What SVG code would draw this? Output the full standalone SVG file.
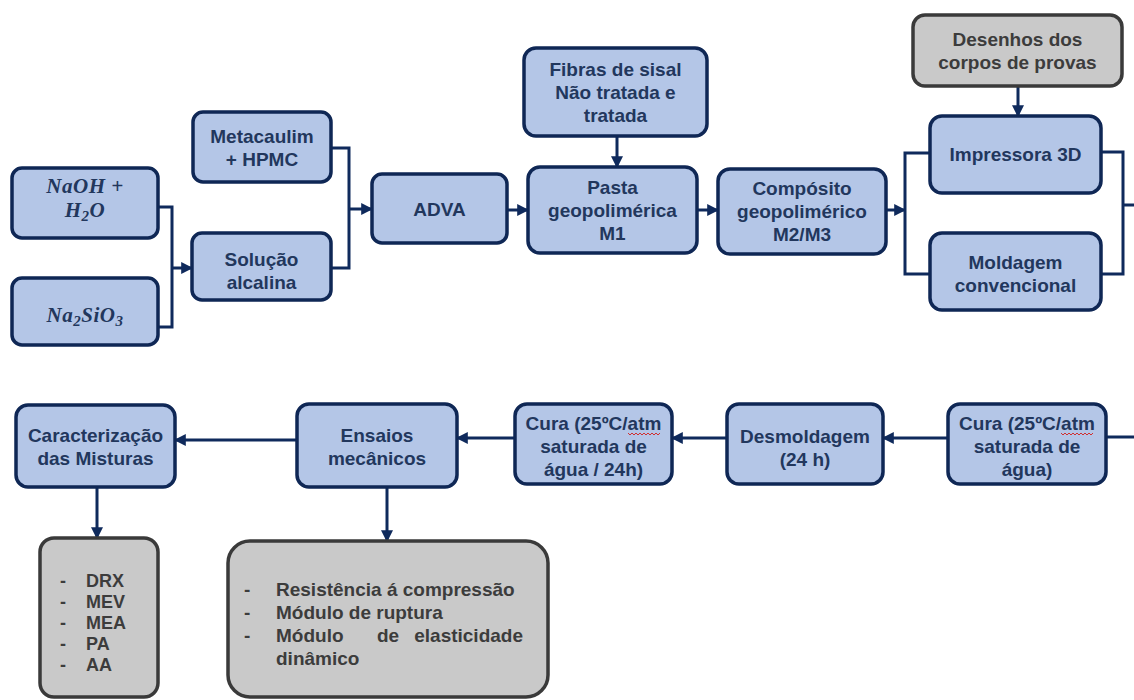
<svg xmlns="http://www.w3.org/2000/svg" width="1134" height="700" viewBox="0 0 1134 700">
<defs>
<style>
.box{fill:#b4c6e7;stroke:#0f2755;stroke-width:3.5}
.gbox{fill:#c9c9c9;stroke:#3a3a3a;stroke-width:3.5}
.t{font-family:"Liberation Sans",Arial,sans-serif;font-weight:bold;font-size:19px;fill:#22375d;text-anchor:middle}
.gt{font-family:"Liberation Sans",Arial,sans-serif;font-weight:bold;font-size:19px;fill:#3c3c3c;text-anchor:middle}
.lt{font-family:"Liberation Sans",Arial,sans-serif;font-weight:bold;font-size:18px;fill:#3c3c3c}
.lt2{font-family:"Liberation Sans",Arial,sans-serif;font-weight:bold;font-size:19px;fill:#3c3c3c}
.m{font-family:"Liberation Serif","Times New Roman",serif;font-weight:bold;font-style:italic;font-size:21px;fill:#22375d;text-anchor:middle;letter-spacing:0.5px}
.c{fill:none;stroke:#0f2a5c;stroke-width:3}
.a{fill:none;stroke:#0f2a5c;stroke-width:3;marker-end:url(#ah)}
.spell{fill:none;stroke:#d03030;stroke-width:1}
</style>
<marker id="ah" viewBox="0 0 10 10" refX="9" refY="5" markerWidth="12" markerHeight="12" markerUnits="userSpaceOnUse" orient="auto">
<path d="M0,0 L10,5 L0,10 z" fill="#0f2a5c"/>
</marker>
</defs>
<rect width="1134" height="700" fill="#ffffff"/>

<g id="connectors">
<polyline class="c" points="156,207 172,207 172,327 156,327"/>
<line class="a" x1="172" y1="268" x2="192" y2="268"/>
<polyline class="c" points="329,148 349,148 349,268 329,268"/>
<line class="a" x1="349" y1="209" x2="372" y2="209"/>
<line class="a" x1="507" y1="210" x2="528" y2="210"/>
<line class="a" x1="617" y1="136" x2="617" y2="167"/>
<line class="a" x1="697" y1="210" x2="718" y2="210"/>
<line class="a" x1="886" y1="210" x2="905" y2="210"/>
<polyline class="c" points="932,153 905,153 905,274 932,274"/>
<line class="a" x1="1018" y1="86" x2="1018" y2="116"/>
<polyline class="c" points="1099,152 1123,152 1123,274 1099,274"/>
<line class="c" x1="1123" y1="205" x2="1134" y2="205"/>
<line class="c" x1="1104" y1="437" x2="1134" y2="437"/>
<line class="a" x1="948" y1="438" x2="883" y2="438"/>
<line class="a" x1="727" y1="438" x2="672" y2="438"/>
<line class="a" x1="515" y1="438" x2="457" y2="438"/>
<line class="a" x1="297" y1="440" x2="175" y2="440"/>
<line class="a" x1="97" y1="487" x2="97" y2="538"/>
<line class="a" x1="387" y1="487" x2="387" y2="541"/>
</g>

<g id="naoh">
<rect class="box" x="12" y="168" width="146" height="70" rx="10"/>
<text class="m" x="85" y="193">NaOH +</text>
<text class="m" x="85" y="217">H<tspan font-size="15" dy="4">2</tspan><tspan dy="-4">O</tspan></text>
</g>
<g id="na2sio3">
<rect class="box" x="12" y="278" width="146" height="67" rx="10"/>
<text class="m" x="85" y="322">Na<tspan font-size="15" dy="4">2</tspan><tspan dy="-4">SiO</tspan><tspan font-size="15" dy="4">3</tspan></text>
</g>
<g id="metacaulim">
<rect class="box" x="193" y="112" width="138" height="70" rx="10"/>
<text class="t" x="262" y="143">Metacaulim</text>
<text class="t" x="262" y="166">+ HPMC</text>
</g>
<g id="solucao">
<rect class="box" x="192" y="233" width="139" height="67" rx="10"/>
<text class="t" x="261.5" y="266">Solução</text>
<text class="t" x="261.5" y="289">alcalina</text>
</g>
<g id="adva">
<rect class="box" x="372" y="174" width="135" height="69" rx="10"/>
<text class="t" x="439.5" y="216">ADVA</text>
</g>
<g id="fibras">
<rect class="box" x="524" y="48" width="183" height="88" rx="12"/>
<text class="t" x="615.5" y="76">Fibras de sisal</text>
<text class="t" x="615.5" y="99">Não tratada e</text>
<text class="t" x="615.5" y="122">tratada</text>
</g>
<g id="pasta">
<rect class="box" x="528" y="167" width="169" height="86" rx="12"/>
<text class="t" x="612.5" y="194">Pasta</text>
<text class="t" x="612.5" y="217">geopolimérica</text>
<text class="t" x="612.5" y="240">M1</text>
</g>
<g id="composito">
<rect class="box" x="718" y="169" width="168" height="85" rx="12"/>
<text class="t" x="802" y="195">Compósito</text>
<text class="t" x="802" y="218">geopolimérico</text>
<text class="t" x="802" y="241">M2/M3</text>
</g>
<g id="desenhos">
<rect class="gbox" x="913" y="15" width="209" height="71" rx="12"/>
<text class="gt" x="1017.5" y="46">Desenhos dos</text>
<text class="gt" x="1017.5" y="69">corpos de provas</text>
</g>
<g id="impressora">
<rect class="box" x="930" y="116" width="171" height="77" rx="12"/>
<text class="t" x="1015.5" y="161">Impressora 3D</text>
</g>
<g id="moldagem">
<rect class="box" x="930" y="233" width="171" height="77" rx="12"/>
<text class="t" x="1015.5" y="269">Moldagem</text>
<text class="t" x="1015.5" y="292">convencional</text>
</g>
<g id="cura2">
<rect class="box" x="948" y="404" width="158" height="80" rx="12"/>
<text class="t" x="1027" y="430">Cura (25ºC/atm</text>
<text class="t" x="1027" y="453">saturada de</text>
<text class="t" x="1027" y="476">água)</text>
<path class="spell" d="M1061,433 l2,2 l2,-2 l2,2 l2,-2 l2,2 l2,-2 l2,2 l2,-2 l2,2 l2,-2 l2,2 l2,-2 l2,2 l2,-2 l2,2 l2,-2"/>
</g>
<g id="desmoldagem">
<rect class="box" x="727" y="404" width="156" height="80" rx="12"/>
<text class="t" x="805" y="443">Desmoldagem</text>
<text class="t" x="805" y="466">(24 h)</text>
</g>
<g id="cura1">
<rect class="box" x="515" y="404" width="157" height="80" rx="12"/>
<text class="t" x="593.5" y="430">Cura (25ºC/atm</text>
<text class="t" x="593.5" y="453">saturada de</text>
<text class="t" x="593.5" y="476">água / 24h)</text>
<path class="spell" d="M628,433 l2,2 l2,-2 l2,2 l2,-2 l2,2 l2,-2 l2,2 l2,-2 l2,2 l2,-2 l2,2 l2,-2 l2,2 l2,-2 l2,2 l2,-2"/>
</g>
<g id="ensaios">
<rect class="box" x="297" y="404" width="160" height="83" rx="12"/>
<text class="t" x="377" y="442">Ensaios</text>
<text class="t" x="377" y="465">mecânicos</text>
</g>
<g id="caracterizacao">
<rect class="box" x="16" y="405" width="159" height="82" rx="12"/>
<text class="t" x="95.5" y="442">Caracterização</text>
<text class="t" x="95.5" y="465">das Misturas</text>
</g>
<g id="lista1">
<rect class="gbox" x="40" y="538" width="118" height="159" rx="14"/>
<text class="lt" x="60" y="587">-</text><text class="lt" x="86" y="587">DRX</text>
<text class="lt" x="60" y="608">-</text><text class="lt" x="86" y="608">MEV</text>
<text class="lt" x="60" y="629">-</text><text class="lt" x="86" y="629">MEA</text>
<text class="lt" x="60" y="650">-</text><text class="lt" x="86" y="650">PA</text>
<text class="lt" x="60" y="671">-</text><text class="lt" x="86" y="671">AA</text>
</g>
<g id="lista2">
<rect class="gbox" x="228" y="541" width="320" height="156" rx="22"/>
<text class="lt2" x="244" y="596">-</text><text class="lt2" x="276" y="596">Resistência á compressão</text>
<text class="lt2" x="244" y="619">-</text><text class="lt2" x="276" y="619">Módulo de ruptura</text>
<text class="lt2" x="244" y="642">-</text><text class="lt2" x="276" y="642">Módulo</text><text class="lt2" x="377" y="642">de</text><text class="lt2" x="523" y="642" text-anchor="end">elasticidade</text>
<text class="lt2" x="276" y="665">dinâmico</text>
</g>
</svg>
